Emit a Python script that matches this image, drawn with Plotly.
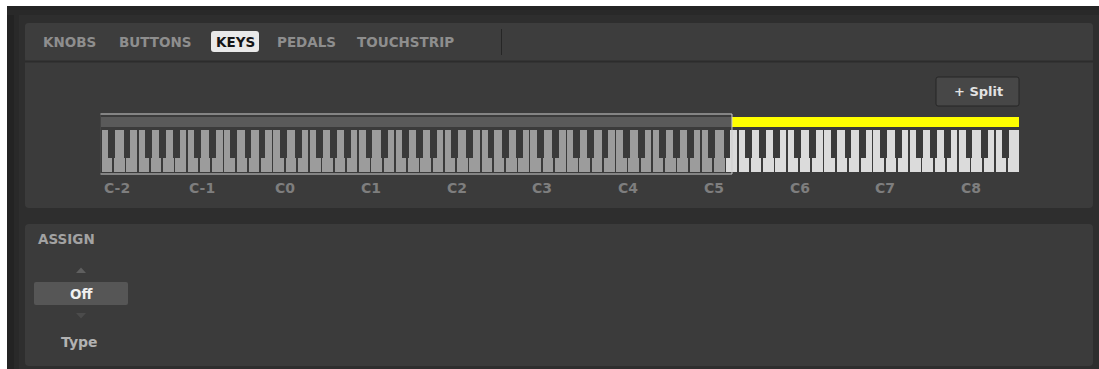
import plotly.graph_objects as go

W, H = 1099, 369

# ---------------- data ----------------
N_NOTES = 128                      # MIDI notes C-2 .. G8
SPLIT_NOTE = 88                    # first note of the second zone (E5)
OCTAVE_LABELS = ["C-2", "C-1", "C0", "C1", "C2", "C3", "C4", "C5", "C6", "C7", "C8"]
TAB_NAMES = ["KNOBS", "BUTTONS", "KEYS", "PEDALS", "TOUCHSTRIP"]
TAB_CENTERS = [69, 155, 235, 306, 405]
ACTIVE_TAB = "KEYS"
WHITE_PCS = [0, 2, 4, 5, 7, 9, 11]
BLACK_OFFSETS = {1: -0.12, 3: 0.12, 6: -0.15, 8: 0.0, 10: 0.15}
ASSIGN_VALUE = "Off"
ASSIGN_LABEL = "Type"

# ---------------- style ----------------
FONT = "DejaVu Sans"
BG = "#2e2e2e"
PANEL = "#3b3b3b"
GRAY_KEY = "#9c9c9c"
LIGHT_KEY = "#dbdbdb"
BLACK_KEY = "#3a3a3a"


def px(x):
    return x / W


def py(y):
    return 1 - y / H


def rrect(x0, y0, x1, y1, r, fill, line=None, lw=0):
    X0, X1 = px(x0), px(x1)
    Y0, Y1 = py(y0), py(y1)
    rx, ry = r / W, r / H
    path = (f"M {X0+rx},{Y0} L {X1-rx},{Y0} Q {X1},{Y0} {X1},{Y0-ry} "
            f"L {X1},{Y1+ry} Q {X1},{Y1} {X1-rx},{Y1} L {X0+rx},{Y1} "
            f"Q {X0},{Y1} {X0},{Y1+ry} L {X0},{Y0-ry} Q {X0},{Y0} {X0+rx},{Y0} Z")
    return dict(type="path", path=path, xref="paper", yref="paper",
                fillcolor=fill, line=dict(color=line or fill, width=lw), layer="below")


def rect(x0, y0, x1, y1, fill):
    return dict(type="rect", xref="paper", yref="paper", x0=px(x0), x1=px(x1),
                y0=py(y1), y1=py(y0), fillcolor=fill, line=dict(width=0), layer="below")


def label(x, y, text, size, color, xanchor="center"):
    return dict(x=px(x), y=py(y), xref="paper", yref="paper", text=text, showarrow=False,
                xanchor=xanchor, yanchor="middle",
                font=dict(family=FONT, size=size, weight="bold", color=color))


shapes = []
# outer frame
shapes.append(rect(0, 0, W, H, BG))
shapes.append(rect(7, 6, 14, H, "#232323"))
shapes.append(rect(14, 6, 19, H, "#292929"))
shapes.append(rect(7, 6, W, 10, "#242424"))
shapes.append(rect(7, 10, W, 15, "#292929"))
shapes.append(rect(0, 0, W, 6, "#ffffff"))
shapes.append(rect(0, 0, 7, H, "#ffffff"))
# panels
shapes.append(rrect(25, 23, 1093, 208, 4, PANEL))
shapes.append(rrect(25, 23, 1093, 61, 4, "#3d3d3d"))
shapes.append(rect(25, 60.5, 1093, 62.5, "#2c2c2c"))
shapes.append(rrect(25, 224, 1093, 366, 4, PANEL))
# tab separator
shapes.append(dict(type="line", xref="paper", yref="paper", x0=px(501.5), x1=px(501.5),
                   y0=py(29), y1=py(55), line=dict(color="#262626", width=1)))

annotations = []
for name, cx in zip(TAB_NAMES, TAB_CENTERS):
    active = name == ACTIVE_TAB
    if active:
        shapes.append(rrect(cx - 24, 31, cx + 24, 52, 3, "#e9e9e9"))
    annotations.append(label(cx, 41.5, name, 13.5, "#151515" if active else "#8e8e8e"))

# + Split button
shapes.append(rrect(936, 77, 1019, 106, 2, "#474747", "#262626", 1))
annotations.append(label(978, 91.5, "+ Split", 13, "#e2e2e2"))

# ASSIGN section
annotations.append(label(36, 239, "ASSIGN", 13.5, "#a2a2a2", xanchor="left"))
shapes.append(dict(type="path", xref="paper", yref="paper",
                   path=f"M {px(76)},{py(273)} L {px(86)},{py(273)} L {px(81)},{py(267.5)} Z",
                   fillcolor="#5f5f5f", line=dict(width=0)))
shapes.append(rrect(34, 282, 128, 305, 2, "#565656"))
annotations.append(label(81, 293.5, ASSIGN_VALUE, 13.5, "#f0f0f0"))
shapes.append(dict(type="path", xref="paper", yref="paper",
                   path=f"M {px(76)},{py(313)} L {px(86)},{py(313)} L {px(81)},{py(318.5)} Z",
                   fillcolor="#4b4b4b", line=dict(width=0)))
annotations.append(label(79, 342, ASSIGN_LABEL, 14, "#b2b2b2"))

# ---------------- keyboard (data driven) ----------------
N_WHITE = sum(1 for n in range(N_NOTES) if n % 12 in WHITE_PCS)
wx, wc, bx, bc = [], [], [], []
for n in range(N_NOTES):
    octv, pc = divmod(n, 12)
    zone1 = n < SPLIT_NOTE
    if pc in WHITE_PCS:
        wi = octv * 7 + WHITE_PCS.index(pc)
        wx.append(wi + 0.5)
        wc.append(GRAY_KEY if zone1 else LIGHT_KEY)
    else:
        wi = octv * 7 + sum(1 for p in WHITE_PCS if p < pc)
        bx.append(wi + BLACK_OFFSETS[pc])
        bc.append(BLACK_KEY)

split_x = SPLIT_NOTE * N_WHITE / N_NOTES

fig = go.Figure()
fig.add_trace(go.Bar(x=wx, y=[42] * len(wx), base=[130] * len(wx), width=0.86,
                     marker=dict(color=wc, line=dict(width=0)), hoverinfo="skip"))
fig.add_trace(go.Bar(x=bx, y=[28] * len(bx), base=[130] * len(bx), width=0.56,
                     marker=dict(color=bc, line=dict(width=0)), hoverinfo="skip"))
# zone bars
fig.add_trace(go.Bar(x=[split_x / 2, (split_x + N_WHITE) / 2], y=[10, 9.5], base=[117, 117],
                     width=[split_x, N_WHITE - split_x],
                     marker=dict(color=["#5a5a5a", "#ffff00"], line=dict(width=0)), hoverinfo="skip"))

# zone frame
shapes.append(dict(type="rect", xref="x", yref="y", x0=-0.07, x1=split_x, y0=114, y1=174,
                   line=dict(color="#cfcfcf", width=1), fillcolor="rgba(0,0,0,0)", layer="above"))

for i, lab in enumerate(OCTAVE_LABELS):
    annotations.append(dict(x=i * 7 + 0.1, y=188, xref="x", yref="y", text=lab, showarrow=False,
                            xanchor="left", yanchor="middle",
                            font=dict(family=FONT, size=14, weight="bold", color="#7e7e7e")))

fig.update_layout(
    width=W, height=H, margin=dict(l=0, r=0, t=0, b=0),
    paper_bgcolor=BG, plot_bgcolor="rgba(0,0,0,0)",
    barmode="overlay", bargap=0, showlegend=False,
    xaxis=dict(domain=[100.5 / W, 1019 / W], range=[0, N_WHITE], visible=False, fixedrange=True),
    yaxis=dict(domain=[0, 1], range=[H, 0], visible=False, fixedrange=True),
    shapes=shapes, annotations=annotations,
)

fig.write_html("out.html", config={"displayModeBar": False},
               post_script="document.body.style.margin='0';")
